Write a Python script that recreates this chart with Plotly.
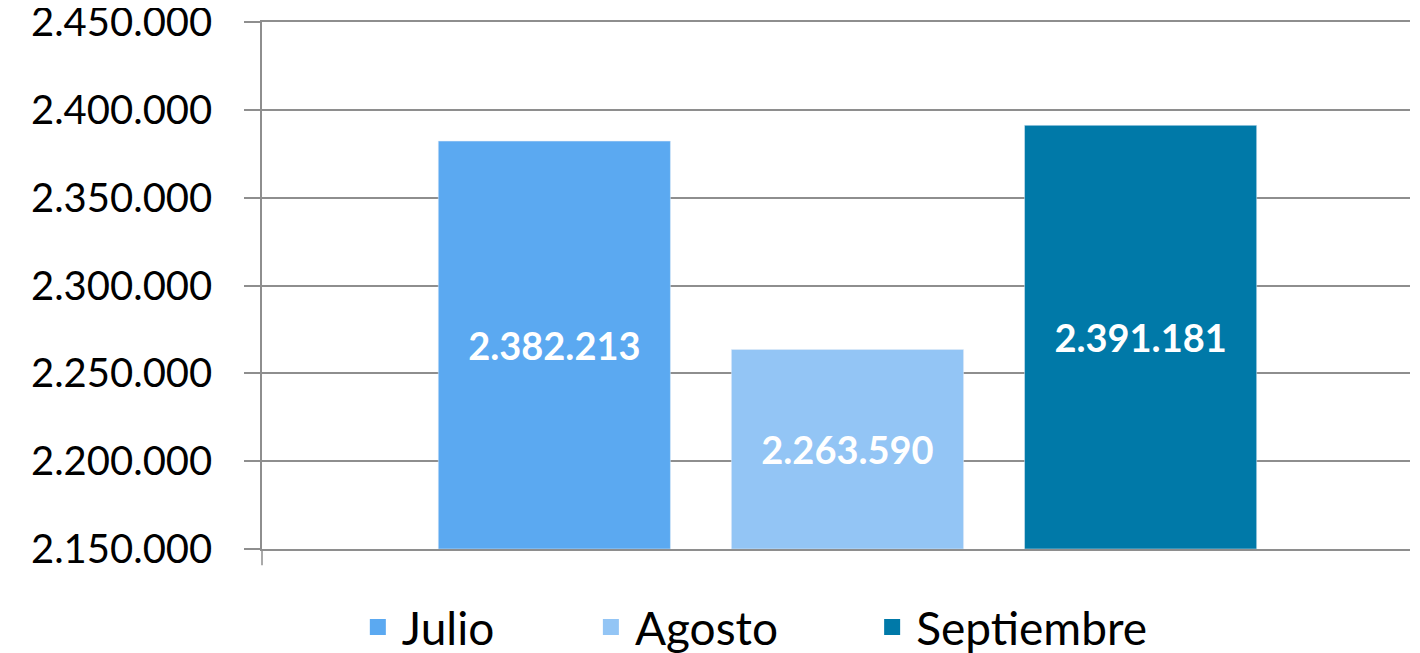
import plotly.graph_objects as go

months = ["Julio", "Agosto", "Septiembre"]
values = [2382213, 2263590, 2391181]
colors = ["#5BA9F1", "#93C5F5", "#0079A8"]
y_ticks = [2150000, 2200000, 2250000, 2300000, 2350000, 2400000, 2450000]

FONT = "Lato, 'Open Sans', sans-serif"
GRID = "#8E8E8E"
Y_MIN = y_ticks[0]

# legend positions (paper x) for the three separate legend boxes
legend_x = [0.080, 0.283, 0.528]

fig = go.Figure()
for i, (name, val, col) in enumerate(zip(months, values, colors)):
    # bars start at the bottom of the axis so the label sits mid-bar
    fig.add_trace(go.Bar(
        name=name,
        x=[0],
        y=[val - Y_MIN],
        base=Y_MIN,
        customdata=[val],
        marker_color=col,
        texttemplate="%{customdata:,d}",
        textposition="inside",
        insidetextanchor="middle",
        textfont=dict(color="white", size=38, family=FONT, weight="bold"),
        textangle=0,
        hovertemplate=name + ": %{customdata:,d}<extra></extra>",
        showlegend=False,
    ))
    leg = "legend" if i == 0 else f"legend{i + 1}"
    fig.add_trace(go.Scatter(
        name=name,
        x=[None],
        y=[None],
        mode="markers",
        marker=dict(symbol="square", size=16, color=col),
        legend=leg,
        showlegend=True,
    ))

legend_common = dict(
    orientation="h",
    yref="container",
    y=0.052,
    yanchor="middle",
    xanchor="left",
    font=dict(size=46, family=FONT, color="black"),
    itemsizing="trace",
    itemwidth=38,
    bgcolor="rgba(0,0,0,0)",
)

# the page body adds an 8px offset, margins are adjusted for it
fig.update_layout(
    width=1420,
    height=653,
    barmode="group",
    bargap=0.234,
    bargroupgap=0.208,
    separators=",.",
    paper_bgcolor="white",
    plot_bgcolor="white",
    font=dict(family=FONT, color="black"),
    margin=dict(l=254, r=18, t=14, b=112, autoexpand=False),
    legend=dict(x=legend_x[0], **legend_common),
    legend2=dict(x=legend_x[1], **legend_common),
    legend3=dict(x=legend_x[2], **legend_common),
)

fig.update_xaxes(
    range=[-0.51, 0.49],
    showticklabels=False,
    showgrid=False,
    zeroline=False,
    showline=True,
    mirror=True,
    linecolor=GRID,
    linewidth=1.5,
    automargin=False,
)
fig.update_yaxes(
    range=[Y_MIN, y_ticks[-1]],
    tickvals=y_ticks,
    tickformat=",d",
    tickfont=dict(size=40, family=FONT),
    ticklabelstandoff=24,
    ticklabeloverflow="allow",
    showgrid=True,
    gridcolor=GRID,
    gridwidth=1.5,
    showline=True,
    linecolor=GRID,
    linewidth=1.5,
    ticks="outside",
    ticklen=16,
    tickcolor=GRID,
    tickwidth=1.5,
    zeroline=False,
    automargin=False,
)

# axis line continues a bit below the bottom gridline, as in the source chart
fig.add_shape(type="line", xref="paper", yref="paper", x0=0, x1=0, y0=-0.031, y1=0,
              line=dict(color=GRID, width=1.5))

fig.write_html("out.html")
